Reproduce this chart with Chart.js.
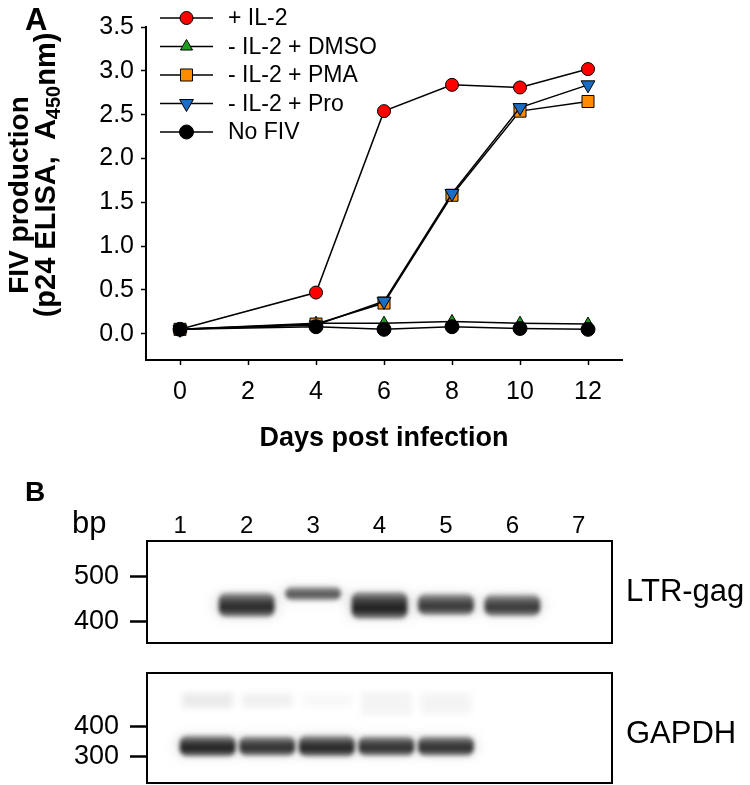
<!DOCTYPE html>
<html>
<head>
<meta charset="utf-8">
<script src="https://cdn.jsdelivr.net/npm/chart.js@4.4.1/dist/chart.umd.min.js"></script>
<style>
    body { margin: 0; background: #fff; }
    #figura { position: relative; width: 750px; height: 785px; }
    .panel { position: absolute; left: 0; width: 750px; }
</style>
</head>
<body>
<div id="figura">
    <div class="panel" style="top:0;height:470px"><canvas id="grafica_a"></canvas></div>
    <div class="panel" style="top:475px;height:175px"><canvas id="gel_ltr"></canvas></div>
    <div class="panel" style="top:650px;height:135px"><canvas id="gel_gapdh"></canvas></div>
</div>
<script>

// ---- datos panel A ----
const dias = [0, 4, 6, 8, 10, 12];
const conIL2 = [0.05, 0.47, 2.54, 2.84, 2.81, 3.02];
const sinIL2Dmso = [0.05, 0.12, 0.12, 0.14, 0.12, 0.11];
const sinIL2Pma = [0.05, 0.11, 0.35, 1.58, 2.54, 2.65];
const sinIL2Pro = [0.05, 0.10, 0.37, 1.60, 2.58, 2.84];
const sinFiv = [0.05, 0.08, 0.05, 0.08, 0.06, 0.05];
const nombresSeries = ['+ IL-2', '- IL-2 + DMSO', '- IL-2 + PMA', '- IL-2 + Pro', 'No FIV'];
const ticksDias = [0, 2, 4, 6, 8, 10, 12];
const ticksAbs = [0.0, 0.5, 1.0, 1.5, 2.0, 2.5, 3.0, 3.5];

// ---- datos panel B (bandas en pb) ----
const carriles = ['1', '2', '3', '4', '5', '6', '7'];
const ltrArriba = [null, 464, 478, 466, 462, 460, null];
const ltrAbajo = [null, 412, 449, 408, 416, 414, null];
const ltrIntensidad = [0, 0.92, 0.72, 0.97, 0.85, 0.85, 0];
const ticksLtr = [500, 400];

const gapdhCarriles = [1, 2, 3, 4, 5];
const gapdhArriba = [370, 368, 370, 368, 368];
const gapdhAbajo = [303, 305, 303, 305, 305];
const gapdhIntensidad = [0.97, 0.9, 0.95, 0.9, 0.9];
const gapdhTenueArriba = [512, 510, 505, 515, 512];
const gapdhTenueAbajo = [465, 468, 470, 440, 445];
const gapdhTenueIntensidad = [0.1, 0.08, 0.04, 0.06, 0.06];
const ticksGapdh = [400, 300];

const fuente = '"Liberation Sans", Arial, Helvetica, sans-serif';

const estilos = [
    { puntoEstilo: 'circle', radio: 6.5, rot: 0, color: '#ff0000', orden: 5 },
    { puntoEstilo: 'triangle', radio: 7, rot: 0, color: '#1e9e1e', orden: 4 },
    { puntoEstilo: 'rect', radio: 8.5, rot: 0, color: '#ff8c00', orden: 3 },
    { puntoEstilo: 'triangle', radio: 8, rot: 180, color: '#1a6cc4', orden: 2 },
    { puntoEstilo: 'circle', radio: 7, rot: 0, color: '#000000', orden: 1 }
];
const series = [conIL2, sinIL2Dmso, sinIL2Pma, sinIL2Pro, sinFiv];

function dibujarMarcador(ctx, est, x, y) {
    ctx.save();
    ctx.fillStyle = est.color;
    ctx.strokeStyle = '#000';
    ctx.lineWidth = 1;
    ctx.beginPath();
    if (est.puntoEstilo === 'circle') {
        ctx.arc(x, y, est.radio, 0, Math.PI * 2);
    } else if (est.puntoEstilo === 'rect') {
        let s = est.radio * Math.SQRT1_2;
        ctx.rect(x - s, y - s, 2 * s, 2 * s);
    } else {
        let a = est.rot * Math.PI / 180;
        ctx.moveTo(x + Math.sin(a) * est.radio, y - Math.cos(a) * est.radio);
        for (let k = 0; k < 2; k++) {
            a += Math.PI * 2 / 3;
            ctx.lineTo(x + Math.sin(a) * est.radio, y - Math.cos(a) * est.radio);
        }
    }
    ctx.closePath();
    ctx.fill();
    ctx.stroke();
    ctx.restore();
}

// leyenda y titulos del panel A
const leyendaA = {
    id: 'leyendaA',
    afterDraw(chart) {
        const ctx = chart.ctx;
        ctx.save();
        nombresSeries.forEach((nombre, i) => {
            let y = 18 + i * 28.5;
            ctx.strokeStyle = '#000';
            ctx.lineWidth = 1.5;
            ctx.beginPath();
            ctx.moveTo(160, y);
            ctx.lineTo(213, y);
            ctx.stroke();
            dibujarMarcador(ctx, estilos[i], 186.5, y);
            ctx.fillStyle = '#000';
            ctx.font = '23px ' + fuente;
            ctx.textAlign = 'left';
            ctx.textBaseline = 'middle';
            ctx.fillText(nombre, 228, y + 1);
        });

        // letra del panel
        ctx.font = 'bold 31px ' + fuente;
        ctx.textBaseline = 'alphabetic';
        ctx.fillText('A', 25, 30);

        // titulo eje x
        const area = chart.chartArea;
        ctx.font = 'bold 27px ' + fuente;
        ctx.textAlign = 'center';
        ctx.textBaseline = 'middle';
        ctx.fillText('Days post infection', (area.left + area.right) / 2, 439);

        // titulo eje y (dos lineas, con subindice)
        ctx.font = 'bold 28px ' + fuente;
        ctx.translate(20, 195);
        ctx.rotate(-Math.PI / 2);
        ctx.fillText('FIV production', 0, 0);
        ctx.setTransform(1, 0, 0, 1, 0, 0);
        ctx.translate(47, 175);
        ctx.rotate(-Math.PI / 2);
        const partes = [
            { t: '(p24 ELISA,  A', f: 'bold 29px ', dy: 0 },
            { t: '450', f: 'bold 20px ', dy: 7 },
            { t: 'nm)', f: 'bold 29px ', dy: 0 }
        ];
        let total = 0;
        partes.forEach(p => { ctx.font = p.f + fuente; p.w = ctx.measureText(p.t).width; total += p.w; });
        let xx = -total / 2;
        ctx.textAlign = 'left';
        partes.forEach(p => {
            ctx.font = p.f + fuente;
            ctx.fillText(p.t, xx, p.dy);
            xx += p.w;
        });
        ctx.restore();
    }
};

const renderGraficaA = () => {
    const datasets = series.map((valores, i) => ({
        label: nombresSeries[i],
        data: dias.map((d, k) => ({ x: d, y: valores[k] })),
        borderColor: '#000',
        borderWidth: 1.5,
        tension: 0,
        pointStyle: estilos[i].puntoEstilo,
        pointRadius: estilos[i].radio,
        pointRotation: estilos[i].rot,
        pointBackgroundColor: estilos[i].color,
        pointBorderColor: '#000',
        pointBorderWidth: 1,
        order: estilos[i].orden
    }));

    new Chart('grafica_a', {
        type: 'line',
        data: { datasets: datasets },
        options: {
            responsive: true,
            maintainAspectRatio: false,
            animation: false,
            layout: { padding: { left: 0, right: 128, top: 27, bottom: 0 } },
            plugins: {
                legend: { display: false },
                tooltip: { enabled: false }
            },
            scales: {
                x: {
                    type: 'linear',
                    min: -1,
                    max: 13,
                    afterBuildTicks: (s) => { s.ticks = ticksDias.map(v => ({ value: v })); },
                    afterFit: (s) => { s.height = 110; },
                    border: { display: true, color: '#000', width: 2 },
                    grid: { drawOnChartArea: false, drawTicks: true, tickLength: 5, tickColor: '#000', tickWidth: 1.5 },
                    ticks: { color: '#000', font: { size: 25, family: fuente }, padding: 12, maxRotation: 0 }
                },
                y: {
                    min: -0.3,
                    max: 3.5,
                    afterBuildTicks: (s) => { s.ticks = ticksAbs.map(v => ({ value: v })); },
                    afterFit: (s) => { s.width = 146; },
                    border: { display: true, color: '#000', width: 2 },
                    grid: { drawOnChartArea: false, drawTicks: true, tickLength: 5, tickColor: '#000', tickWidth: 1.5 },
                    ticks: {
                        color: '#000',
                        font: { size: 25, family: fuente },
                        padding: 7,
                        callback: (v) => Number(v).toFixed(1)
                    }
                }
            }
        },
        plugins: [leyendaA]
    });
};

// ---- gel: difuminado de bandas y marco ----
const gelDifuso = {
    id: 'gelDifuso',
    beforeDatasetDraw(chart, args) {
        const ds = chart.data.datasets[args.index];
        chart.ctx.save();
        chart.ctx.filter = 'blur(' + (ds.difuso || 0) + 'px)';
    },
    afterDatasetDraw(chart) {
        chart.ctx.restore();
    },
    afterDraw(chart, args, opts) {
        const ctx = chart.ctx;
        const a = chart.chartArea;
        ctx.save();
        ctx.strokeStyle = '#000';
        ctx.lineWidth = 2;
        ctx.strokeRect(a.left, a.top, a.right - a.left, a.bottom - a.top);
        ctx.fillStyle = '#000';
        ctx.font = '31px ' + fuente;
        ctx.textAlign = 'left';
        ctx.textBaseline = 'middle';
        ctx.fillText(opts.nombre, a.right + 14, opts.yNombre);
        if (opts.panel) {
            ctx.font = 'bold 28px ' + fuente;
            ctx.textBaseline = 'alphabetic';
            ctx.fillText('B', 25, 26);
            ctx.font = '31px ' + fuente;
            ctx.fillText('bp', 72, 58);
            // numeros de carril sobre el gel
            const xs = chart.scales.x;
            ctx.font = '24px ' + fuente;
            ctx.textAlign = 'center';
            carriles.forEach((c, i) => ctx.fillText(c, xs.getPixelForValue(i), 58));
        }
        ctx.restore();
    }
};

// degradado vertical de cada banda, mas oscura abajo
const colorBanda = (intensidades) => (context) => {
    const chart = context.chart;
    const raw = context.raw;
    if (!raw || !chart.chartArea) return 'rgba(0,0,0,0)';
    const rango = Array.isArray(raw) ? raw : raw.y;
    const a = intensidades[context.dataIndex];
    const y1 = chart.scales.y.getPixelForValue(rango[1]);
    const y0 = chart.scales.y.getPixelForValue(rango[0]);
    const g = chart.ctx.createLinearGradient(0, y1, 0, y0);
    g.addColorStop(0, 'rgba(90,90,90,' + (a * 0.55) + ')');
    g.addColorStop(0.3, 'rgba(45,45,45,' + (a * 0.9) + ')');
    g.addColorStop(0.65, 'rgba(20,20,20,' + a + ')');
    g.addColorStop(1, 'rgba(70,70,70,' + (a * 0.7) + ')');
    return g;
};

const ejeGel = (ticks, min, max) => ({
    min: min,
    max: max,
    afterBuildTicks: (s) => { s.ticks = ticks.map(v => ({ value: v })); },
    afterFit: (s) => {
        s.width = 147;
        s.paddingTop = 0;
        s.paddingBottom = 0;
    },
    border: { display: false },
    grid: { drawOnChartArea: false, drawTicks: true, tickLength: 17, tickColor: '#000', tickWidth: 2.5 },
    ticks: { color: '#000', font: { size: 27, family: fuente }, padding: 11 }
});

const renderGelLtr = () => {
    const rangos = carriles.map((c, i) => ltrArriba[i] == null ? null : [ltrAbajo[i], ltrArriba[i]]);
    new Chart('gel_ltr', {
        type: 'bar',
        data: {
            labels: carriles,
            datasets: [{
                label: 'halo',
                data: rangos,
                backgroundColor: carriles.map((c, i) => 'rgba(150,150,150,' + (ltrIntensidad[i] * 0.3) + ')'),
                barThickness: 64,
                borderRadius: 9,
                borderSkipped: false,
                grouped: false,
                difuso: 6,
                order: 2
            }, {
                label: 'LTR-gag',
                data: rangos,
                backgroundColor: colorBanda(ltrIntensidad),
                barThickness: 55,
                borderRadius: 7,
                borderSkipped: false,
                grouped: false,
                difuso: 2,
                order: 1
            }]
        },
        options: {
            responsive: true,
            maintainAspectRatio: false,
            animation: false,
            layout: { padding: { left: 0, right: 138, top: 0, bottom: 7 } },
            plugins: {
                legend: { display: false },
                tooltip: { enabled: false },
                gelDifuso: { nombre: 'LTR-gag', yNombre: 117, panel: true }
            },
            scales: {
                x: {
                    position: 'top',
                    afterFit: (s) => { s.height = 66; },
                    border: { display: false },
                    grid: { display: false },
                    ticks: { display: false }
                },
                y: ejeGel(ticksLtr, 353, 580)
            }
        },
        plugins: [gelDifuso]
    });
};

const renderGelGapdh = () => {
    const rangos = gapdhCarriles.map((c, i) => ({ x: c, y: [gapdhAbajo[i], gapdhArriba[i]] }));
    const tenues = gapdhCarriles.map((c, i) => ({ x: c, y: [gapdhTenueAbajo[i], gapdhTenueArriba[i]] }));
    new Chart('gel_gapdh', {
        type: 'bar',
        data: {
            datasets: [{
                label: 'arrastre',
                data: tenues,
                backgroundColor: gapdhCarriles.map((c, i) => 'rgba(60,60,60,' + gapdhTenueIntensidad[i] + ')'),
                barThickness: 50,
                grouped: false,
                difuso: 3,
                order: 3
            }, {
                label: 'halo',
                data: rangos,
                backgroundColor: gapdhCarriles.map((c, i) => 'rgba(150,150,150,' + (gapdhIntensidad[i] * 0.3) + ')'),
                barThickness: 64,
                borderRadius: 9,
                borderSkipped: false,
                grouped: false,
                difuso: 6,
                order: 2
            }, {
                label: 'GAPDH',
                data: rangos,
                backgroundColor: colorBanda(gapdhIntensidad),
                barThickness: 55,
                borderRadius: 7,
                borderSkipped: false,
                grouped: false,
                difuso: 2,
                order: 1
            }]
        },
        options: {
            responsive: true,
            maintainAspectRatio: false,
            animation: false,
            layout: { padding: { left: 0, right: 138, top: 23, bottom: 2 } },
            plugins: {
                legend: { display: false },
                tooltip: { enabled: false },
                gelDifuso: { nombre: 'GAPDH', yNombre: 84, panel: false }
            },
            scales: {
                x: { type: 'linear', min: 0.54, max: 7.23, display: false },
                y: ejeGel(ticksGapdh, 213, 580)
            }
        },
        plugins: [gelDifuso]
    });
};

renderGraficaA();
renderGelLtr();
renderGelGapdh();

</script>
</body>
</html>
